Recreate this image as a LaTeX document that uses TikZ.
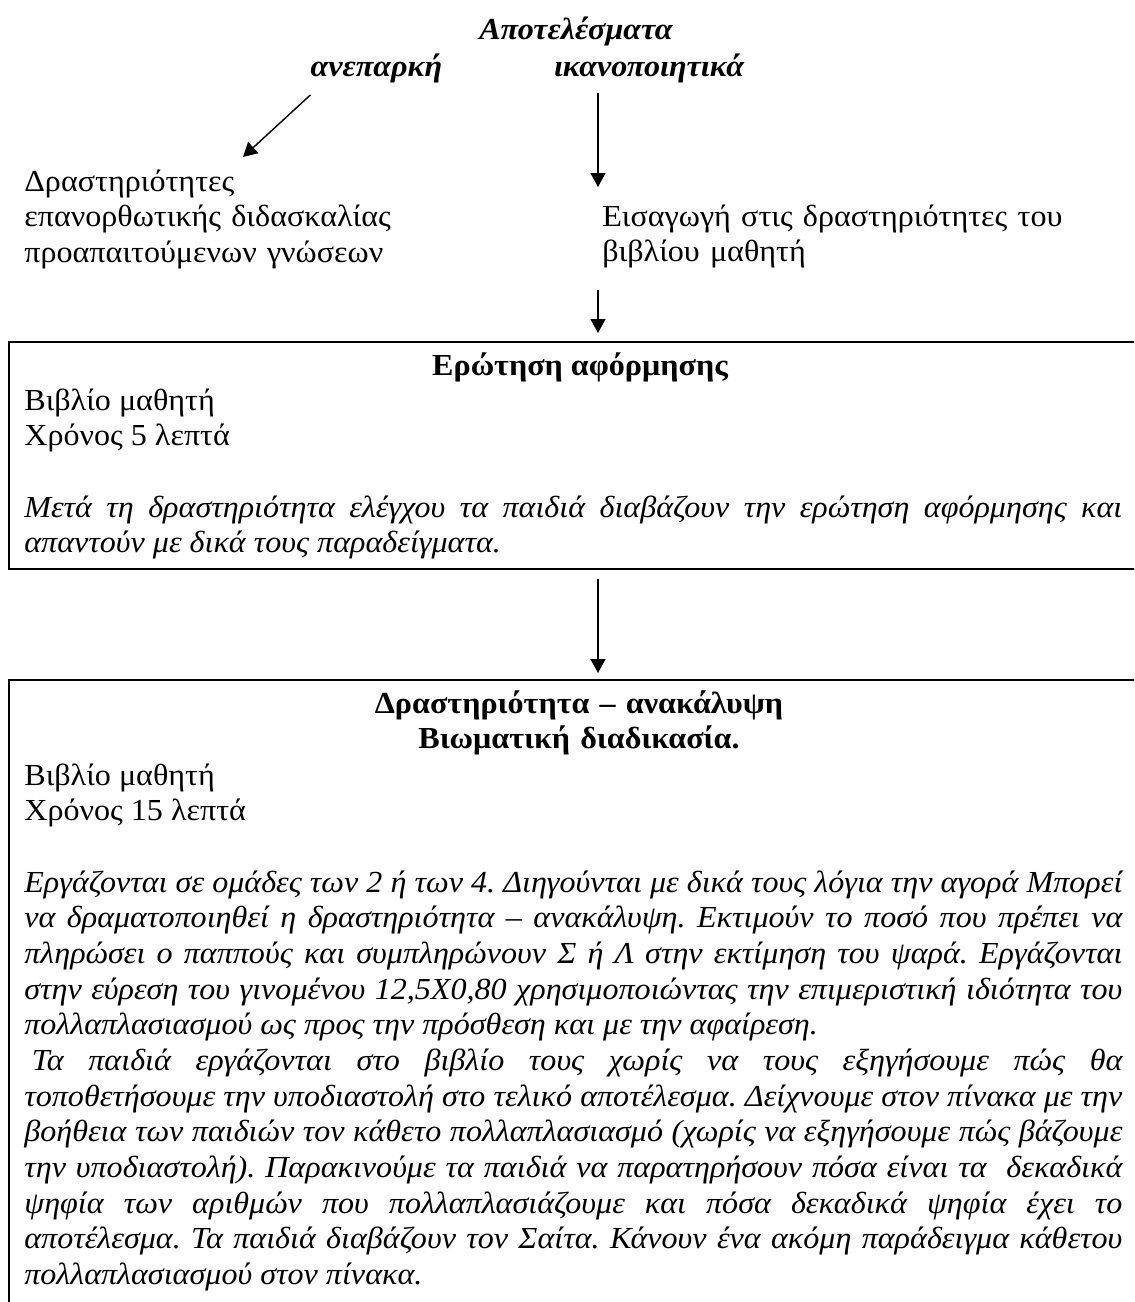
\documentclass[tikz,border=0pt]{standalone}
\usepackage{fontspec}
\setmainfont{Liberation Serif}[FakeStretch=1.05]
\frenchspacing
\usetikzlibrary{arrows.meta, positioning}

\begin{document}
\begin{tikzpicture}[
    frame box/.style={
        rectangle,
        draw,
        line width=0.9pt,
        minimum width=22.6cm,
        anchor=north west,
    },
    flow arrow/.style={
        -{Triangle[length=0.28cm,width=0.3cm]},
        line width=0.8pt,
    },
    body text/.style={
        inner sep=0pt,
        anchor=base west,
        font=\fontsize{17.4}{20.3}\selectfont,
    },
    head text/.style={
        inner sep=0pt,
        anchor=base,
        font=\fontsize{17.4}{20.3}\selectfont\bfseries,
    }
]
\clip (0,0) rectangle (22.68,-26.04);

\node[head text, font=\fontsize{17.4}{20.3}\selectfont\bfseries\itshape] (results) at (11.52,-0.8) {Αποτελέσματα};
\node[head text, font=\fontsize{17.4}{20.3}\selectfont\bfseries\itshape] (lacking) at (7.53,-1.54) {ανεπαρκή};
\node[head text, font=\fontsize{17.4}{20.3}\selectfont\bfseries\itshape] (satisfying) at (12.98,-1.54) {ικανοποιητικά};

\node[body text, text width=8cm, align=left] (remedial) at (0.48,-3.82)
    {Δραστηριότητες\\επανορθωτικής διδασκαλίας\\προαπαιτούμενων γνώσεων};
\node[body text, text width=10cm, align=left] (intro) at (12.04,-4.52)
    {Εισαγωγή στις δραστηριότητες του\\βιβλίου μαθητή};

% first box
\node[frame box, minimum height=4.54cm] (question) at (0.16,-6.82) {};
\node[head text] (question title) at (11.6,-7.5) {Ερώτηση αφόρμησης};
\node[body text, text width=21.96cm, align=justify] (question body) at (0.48,-8.2)
    {Βιβλίο μαθητή\\Χρόνος 5 λεπτά\\[20.3pt]
    \itshape Μετά τη δραστηριότητα ελέγχου τα παιδιά διαβάζουν την ερώτηση αφόρμησης και\linebreak
    απαντούν με δικά τους παραδείγματα.};

% second box
\node[frame box, minimum height=13.5cm] (discovery) at (0.16,-13.58) {};
\node[head text, text width=12cm, align=center] (discovery title) at (11.58,-14.26)
    {Δραστηριότητα – ανακάλυψη\\Βιωματική διαδικασία.};
\node[body text, text width=21.96cm, align=justify] (discovery body) at (0.48,-15.7)
    {Βιβλίο μαθητή\\Χρόνος 15 λεπτά\\[20.3pt]
    \itshape Εργάζονται σε ομάδες των 2 ή των 4. Διηγούνται με δικά τους λόγια την αγορά Μπορεί\linebreak
    να δραματοποιηθεί η δραστηριότητα – ανακάλυψη. Εκτιμούν το ποσό που πρέπει να\linebreak
    πληρώσει ο παππούς και συμπληρώνουν Σ ή Λ στην εκτίμηση του ψαρά. Εργάζονται\linebreak
    στην εύρεση του γινομένου 12,5Χ0,80 χρησιμοποιώντας την επιμεριστική ιδιότητα του\linebreak
    πολλαπλασιασμού ως προς την πρόσθεση και με την αφαίρεση.\par
    \hspace*{0.25em}Τα παιδιά εργάζονται στο βιβλίο τους χωρίς να τους εξηγήσουμε πώς θα\linebreak
    τοποθετήσουμε την υποδιαστολή στο τελικό αποτέλεσμα. Δείχνουμε στον πίνακα με την\linebreak
    βοήθεια των παιδιών τον κάθετο πολλαπλασιασμό (χωρίς να εξηγήσουμε πώς βάζουμε\linebreak
    την υποδιαστολή). Παρακινούμε τα παιδιά να παρατηρήσουν πόσα είναι τα~ δεκαδικά\linebreak
    ψηφία των αριθμών που πολλαπλασιάζουμε και πόσα δεκαδικά ψηφία έχει το\linebreak
    αποτέλεσμα. Τα παιδιά διαβάζουν τον Σαίτα. Κάνουν ένα ακόμη παράδειγμα κάθετου\linebreak
    πολλαπλασιασμού στον πίνακα.};

% arrows
\coordinate (spine) at (11.96,0);
\coordinate (remedial top) at (4.86,-3.14);
\draw[flow arrow] ([yshift=-0.36cm]lacking.base west) -- (remedial top);
\draw[flow arrow] ([yshift=-0.32cm]satisfying.base -| spine) -- ([yshift=0.78cm]intro.base -| spine);
\draw[flow arrow] ([yshift=-1.28cm]intro.base -| spine) -- ([yshift=0.16cm]question.north -| spine);
\draw[flow arrow] ([yshift=-0.18cm]question.south -| spine) -- ([yshift=0.12cm]discovery.north -| spine);
\end{tikzpicture}
\end{document}
